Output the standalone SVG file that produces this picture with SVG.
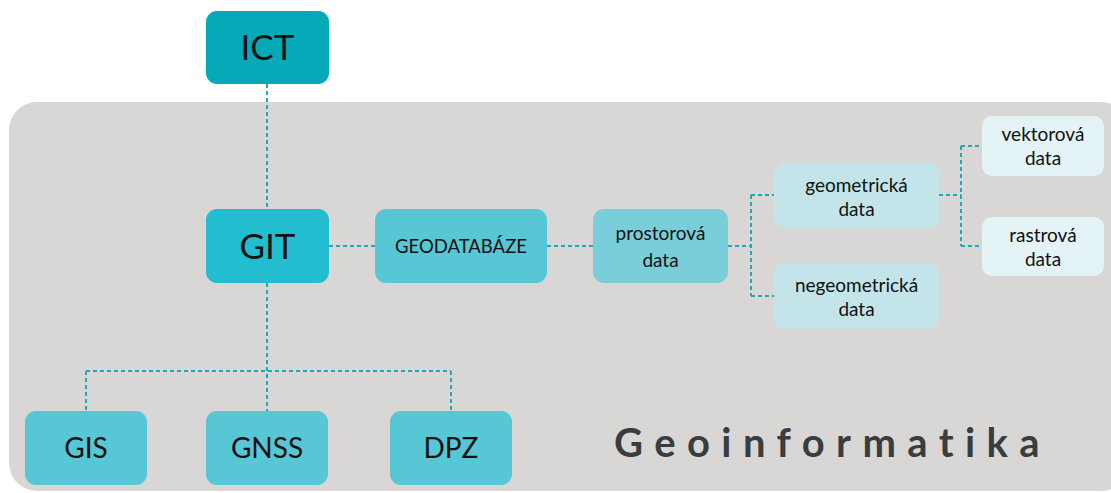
<svg xmlns="http://www.w3.org/2000/svg" width="1111" height="493" viewBox="0 0 1111 493">
  <style>
    .lbl { font-family: Lato, "Open Sans", "Liberation Sans", sans-serif; fill: #111; text-anchor: middle; }
    .big { font-size: 35px; }
    .mid { font-size: 28px; }
    .sm { font-size: 19px; }
    .link { fill: none; stroke: #1fa9bb; stroke-width: 2; stroke-dasharray: 4 3; }
    .title { font-family: Lato, "Open Sans", "Liberation Sans", sans-serif; font-size: 40px; font-weight: bold; fill: #3a3d40; letter-spacing: 11.4px; }
  </style>

  <!-- background panel -->
  <rect id="panel" x="9" y="102" width="1120" height="389" rx="28" fill="#d9d7d5"/>

  <!-- connectors -->
  <g id="connectors">
    <path class="link" d="M267 84 V209"/>
    <path class="link" d="M329 246 H375"/>
    <path class="link" d="M547 246 H593"/>
    <path class="link" d="M728 246 H751 M751 195 V296 M751 195 H774 M751 296 H774"/>
    <path class="link" d="M939 195 H961 M961 146 V246 M961 146 H982 M961 246 H982"/>
    <path class="link" d="M267 283 V411"/>
    <path class="link" d="M86 371 H451 M86 371 V411 M451 371 V411"/>
  </g>

  <g id="ict">
    <rect x="206" y="11" width="123" height="73" rx="11" fill="#05a9b8"/>
    <text class="lbl big" x="267.5" y="60">ICT</text>
  </g>
  <g id="git">
    <rect x="206" y="209" width="123" height="74" rx="11" fill="#22bed0"/>
    <text class="lbl big" x="267.5" y="259">GIT</text>
  </g>
  <g id="geodatabaze">
    <rect x="375" y="209" width="172" height="74" rx="11" fill="#57c6d5"/>
    <text class="lbl sm" x="461" y="253" style="font-size:18.5px">GEODATABÁZE</text>
  </g>
  <g id="prostorova">
    <rect x="593" y="209" width="135" height="74" rx="11" fill="#79ced9"/>
    <text class="lbl sm" x="660.5" y="240">prostorová</text>
    <text class="lbl sm" x="660.5" y="267">data</text>
  </g>
  <g id="geometricka">
    <rect x="774" y="163" width="165" height="65" rx="10" fill="#c3e5ea"/>
    <text class="lbl sm" x="856.5" y="192">geometrická</text>
    <text class="lbl sm" x="856.5" y="216">data</text>
  </g>
  <g id="negeometricka">
    <rect x="774" y="263" width="165" height="66" rx="10" fill="#c3e5ea"/>
    <text class="lbl sm" x="856.5" y="292">negeometrická</text>
    <text class="lbl sm" x="856.5" y="316">data</text>
  </g>
  <g id="vektorova">
    <rect x="982" y="116" width="122" height="60" rx="10" fill="#e4f3f5"/>
    <text class="lbl sm" x="1043" y="141">vektorová</text>
    <text class="lbl sm" x="1043" y="165">data</text>
  </g>
  <g id="rastrova">
    <rect x="982" y="217" width="122" height="59" rx="10" fill="#e4f3f5"/>
    <text class="lbl sm" x="1043" y="242">rastrová</text>
    <text class="lbl sm" x="1043" y="266">data</text>
  </g>
  <g id="gis">
    <rect x="25" y="411" width="122" height="74" rx="11" fill="#57c6d5"/>
    <text class="lbl mid" x="86" y="458">GIS</text>
  </g>
  <g id="gnss">
    <rect x="206" y="411" width="122" height="74" rx="11" fill="#57c6d5"/>
    <text class="lbl mid" x="267" y="458">GNSS</text>
  </g>
  <g id="dpz">
    <rect x="390" y="411" width="122" height="74" rx="11" fill="#57c6d5"/>
    <text class="lbl mid" x="451" y="458">DPZ</text>
  </g>

  <text id="title" class="title" x="614" y="457">Geoinformatika</text>
</svg>
